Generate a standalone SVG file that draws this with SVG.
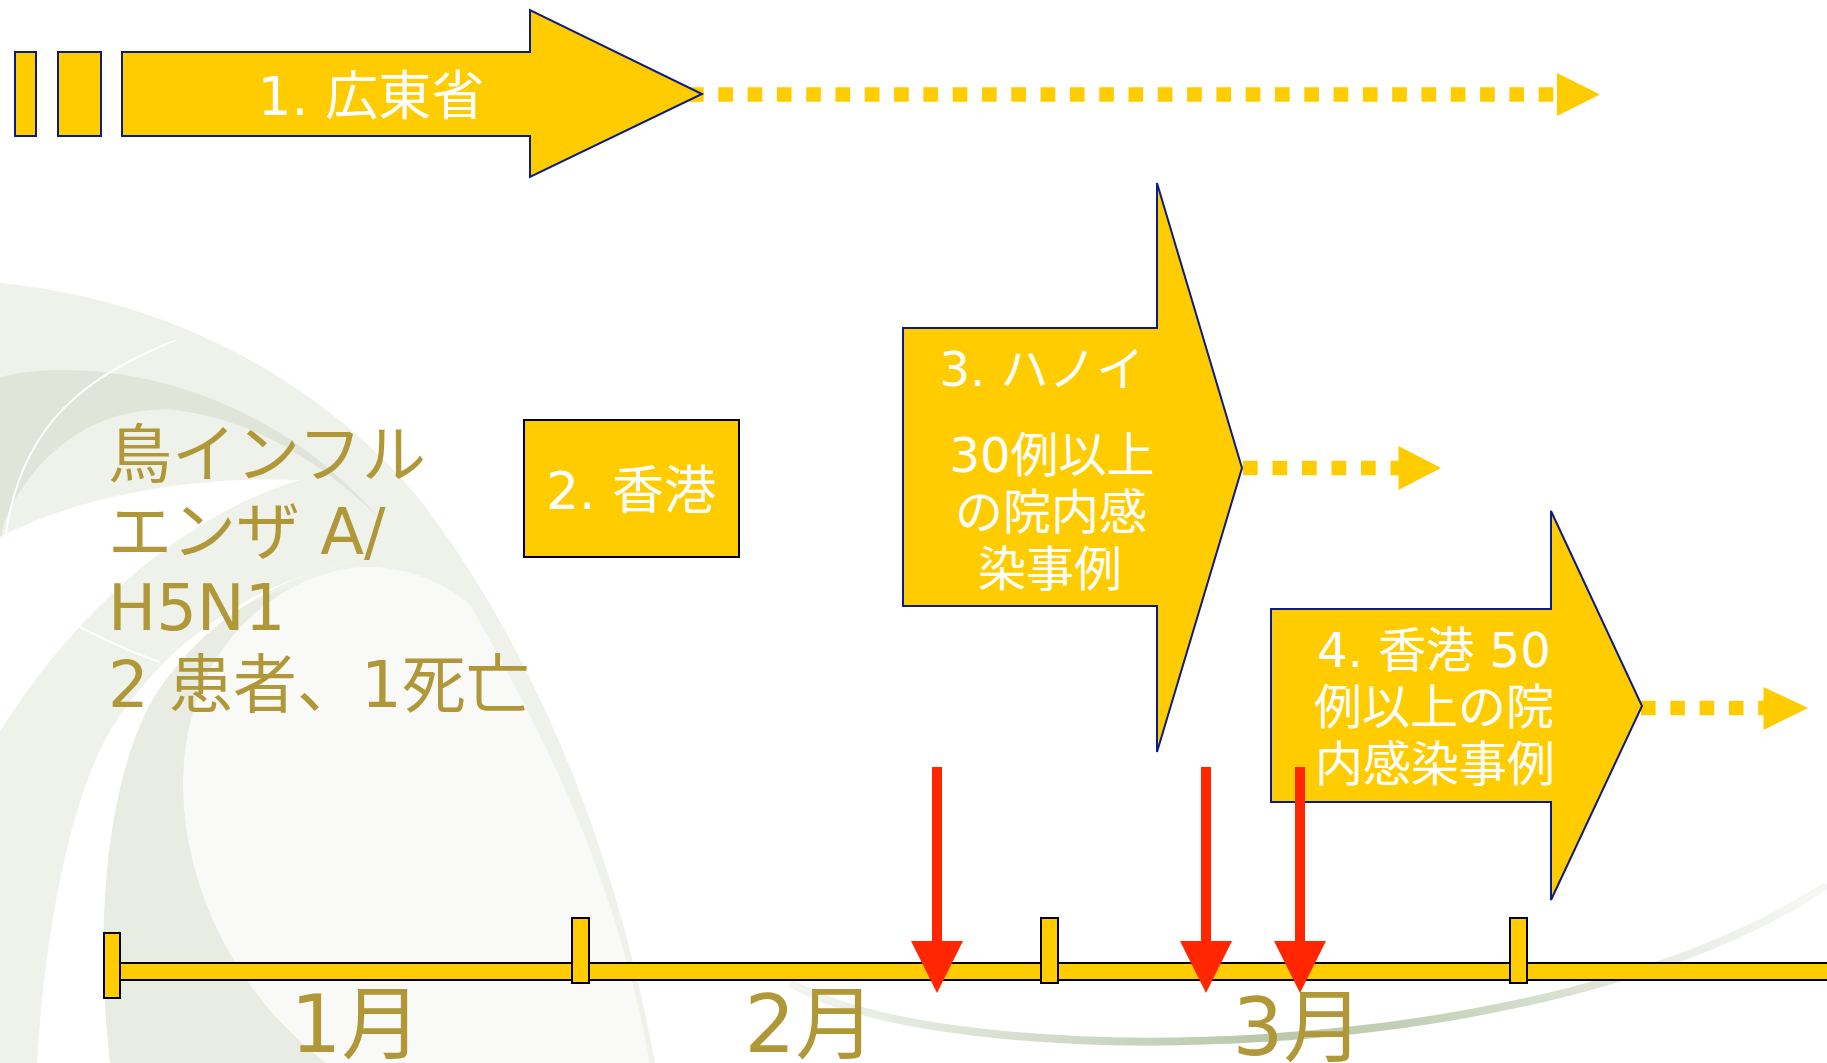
<svg xmlns="http://www.w3.org/2000/svg" width="1827" height="1063" viewBox="0 0 1827 1063">
<defs>
<style>
.y{fill:#FFCC00;stroke:#0C1C86;stroke-width:2}
.yb{fill:#FFCC00;stroke:#000;stroke-width:2}
.dot{fill:none;stroke:#FFCC00;stroke-width:14.6}
.dh{fill:#FFCC00}
.red{fill:#FF2600}
.w{font-family:"DejaVu Sans","Noto Sans CJK JP",sans-serif;fill:#FFFFFF;text-anchor:middle}
.g{font-family:"DejaVu Sans","Noto Sans CJK JP",sans-serif;fill:#B09838}
</style>
<linearGradient id="arcg" x1="790" y1="0" x2="1827" y2="0" gradientUnits="userSpaceOnUse">
<stop offset="0" stop-color="#F3F5F0"/>
<stop offset="0.45" stop-color="#B9C8AB"/>
<stop offset="0.6" stop-color="#C3D0B7"/>
<stop offset="0.85" stop-color="#E9EDE4"/>
<stop offset="1" stop-color="#F7F8F5"/>
</linearGradient>
</defs>
<rect width="1827" height="1063" fill="#FFFFFF"/>
<g id="background">
<path d="M0,283 C180,300 330,390 420,500 C520,630 610,820 655,1063 L0,1063 Z" fill="#EFF2EA"/>
<path d="M0,377 C90,355 260,380 378,517 C330,470 260,420 175,410 C110,405 40,440 5,520 L0,540 Z" fill="#DFE5D8"/>
<path d="M326,1063 C230,990 182,880 183,780 C185,690 230,600 335,571 C400,555 455,590 470,605 C560,760 620,900 650,1063 Z" fill="#F9FAF8"/>
<path d="M110,1063 C95,930 105,790 150,704 C185,640 240,600 290,588 C220,630 185,690 183,780 C182,880 230,990 326,1063 Z" fill="#E8ECE2"/>
<path d="M37,1063 C45,930 70,800 110,731 C160,650 240,585 360,560 C280,575 200,620 150,704 C105,790 95,930 110,1063 Z" fill="#FFFFFF"/>
<path d="M0,537 C60,505 170,475 300,480 C200,510 90,590 0,731 Z" fill="#FFFFFF"/>
<path d="M176,340 C90,375 20,420 5,540" fill="none" stroke="#FFFFFF" stroke-width="2"/>
<path d="M80,627 C105,640 130,652 160,662" fill="none" stroke="#FFFFFF" stroke-width="2"/>
<path d="M790,983 C950,1075 1550,1070 1827,885" fill="none" stroke="url(#arcg)" stroke-width="8"/>
</g>
<g id="connectors">
<line class="dot" x1="689" y1="94.5" x2="1554" y2="94.5" stroke-dasharray="14.65 14.65"/>
<polygon class="dh" points="1557,73 1600,94.5 1557,116"/>
<line class="dot" x1="1243" y1="468" x2="1399" y2="468" stroke-dasharray="14.7 14.8"/>
<polygon class="dh" points="1398.5,446 1441,468 1398.5,490"/>
<line class="dot" x1="1641" y1="708" x2="1764" y2="708" stroke-dasharray="14.6 14.7"/>
<polygon class="dh" points="1763.5,687 1808,708 1763.5,730"/>
</g>
<g id="stub1"><rect class="y" x="15" y="52" width="21" height="84"/></g>
<g id="stub2"><rect class="y" x="58" y="52" width="43" height="84"/></g>
<g id="node1">
<polygon class="y" points="122,52 530,52 530,10 702,94 530,177 530,136 122,136"/>
<text class="w" x="371" y="115" font-size="53">1. 広東省</text>
</g>
<g id="node2">
<rect class="yb" x="524" y="420" width="215" height="137"/>
<text class="w" x="631" y="509" font-size="52">2. 香港</text>
</g>
<g id="node3">
<polygon class="y" points="903,328 1157,328 1157,183 1242,468 1157,752 1157,606 903,606"/>
<text class="w" font-size="48"><tspan x="1042" y="386">3. ハノイ</tspan><tspan x="1052" y="472">30例以上</tspan><tspan x="1051" y="529">の院内感</tspan><tspan x="1050" y="586">染事例</tspan></text>
</g>
<g id="node4">
<polygon class="y" points="1271,609 1551,609 1551,511 1642,706 1551,900 1551,802 1271,802"/>
<text class="w" font-size="48"><tspan x="1434" y="667">4. 香港 50</tspan><tspan x="1434" y="724">例以上の院</tspan><tspan x="1435" y="781">内感染事例</tspan></text>
</g>
<g id="label">
<text class="g" font-size="64"><tspan x="108" y="477">鳥インフル</tspan><tspan x="108" y="554">エンザ A/</tspan><tspan x="108" y="630">H5N1</tspan><tspan x="108" y="707">2 患者、1死亡</tspan></text>
</g>
<g id="timeline">
<rect class="yb" x="120" y="963" width="1712" height="17" stroke-width="2.5"/>
<rect class="yb" x="104" y="933" width="16" height="65"/>
<rect class="yb" x="572" y="918" width="17" height="65"/>
<rect class="yb" x="1041" y="918" width="17" height="65"/>
<rect class="yb" x="1510" y="918" width="17" height="65"/>
<text class="g" font-size="80" text-anchor="middle" x="356" y="1052">1月</text>
<text class="g" font-size="80" text-anchor="middle" x="810" y="1052">2月</text>
<text class="g" font-size="80" text-anchor="middle" x="1298" y="1055">3月</text>
</g>
<g id="markers">
<rect class="red" x="932" y="767" width="10" height="178"/>
<polygon class="red" points="911,941 963,941 937,993"/>
<rect class="red" x="1201" y="767" width="10" height="178"/>
<polygon class="red" points="1180,941 1232,941 1206,993"/>
<rect class="red" x="1295" y="767" width="10" height="178"/>
<polygon class="red" points="1274,941 1326,941 1300,993"/>
</g>
</svg>
